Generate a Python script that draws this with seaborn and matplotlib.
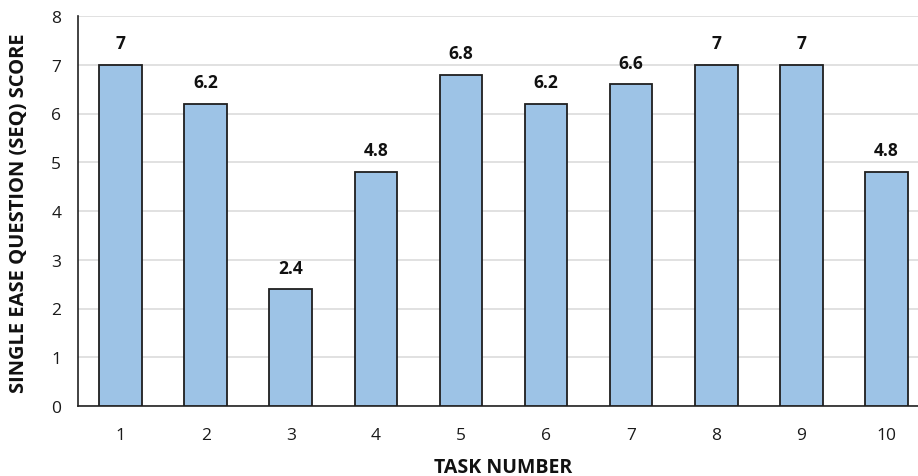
import matplotlib
matplotlib.use("Agg")
import matplotlib.pyplot as plt
import seaborn as sns
import pandas as pd

tasks = ["1", "2", "3", "4", "5", "6", "7", "8", "9", "10"]
seq_scores = [7, 6.2, 2.4, 4.8, 6.8, 6.2, 6.6, 7, 7, 4.8]
y_ticks = [0, 1, 2, 3, 4, 5, 6, 7, 8]

sns.set_theme(style="white")
plt.rcParams["font.family"] = ["Open Sans", "DejaVu Sans"]

df = pd.DataFrame({"task": tasks, "score": seq_scores})

fig = plt.figure(figsize=(9.18, 4.77), dpi=100)
# the last category band runs a little past the right edge of the canvas
ax = fig.add_axes([78 / 918, 1 - 407 / 477, 851 / 918, 390 / 477])

sns.barplot(data=df, x="task", y="score", order=tasks, color="#9DC3E6",
            saturation=1, width=0.5, edgecolor="#1f1f1f", linewidth=1.3,
            ax=ax, zorder=3)

ax.set_ylim(0, 8)
ax.set_xlim(-0.5, 9.5)
ax.set_yticks(y_ticks)
ax.yaxis.grid(True, color="#D9D9D9", linewidth=1.1, zorder=0)
ax.set_axisbelow(True)

for s in ["top", "right"]:
    ax.spines[s].set_visible(False)
for s in ["left", "bottom"]:
    ax.spines[s].set_color("#222222")
    ax.spines[s].set_linewidth(1.2)

ax.tick_params(axis="y", length=0, pad=12, labelsize=12.5, labelcolor="#1a1a1a")
ax.tick_params(axis="x", length=0, pad=15, labelsize=12.5, labelcolor="#1a1a1a")

for i, v in enumerate(seq_scores):
    ax.annotate(f"{v:g}", (i, v), xytext=(0, 9), textcoords="offset points",
                ha="center", va="bottom", fontsize=12.5, fontweight="bold",
                color="#111111")

ax.set_xlabel("TASK NUMBER", fontsize=14, fontweight="bold", color="#111111")
ax.set_ylabel("SINGLE EASE QUESTION (SEQ) SCORE", fontsize=14.5,
              fontweight="bold", color="#111111")
ax.xaxis.set_label_coords((503 - 78) / 851, -51 / 390)
ax.yaxis.set_label_coords((29 - 78) / 851, 194 / 390)

fig.savefig("out.png", dpi=100)
